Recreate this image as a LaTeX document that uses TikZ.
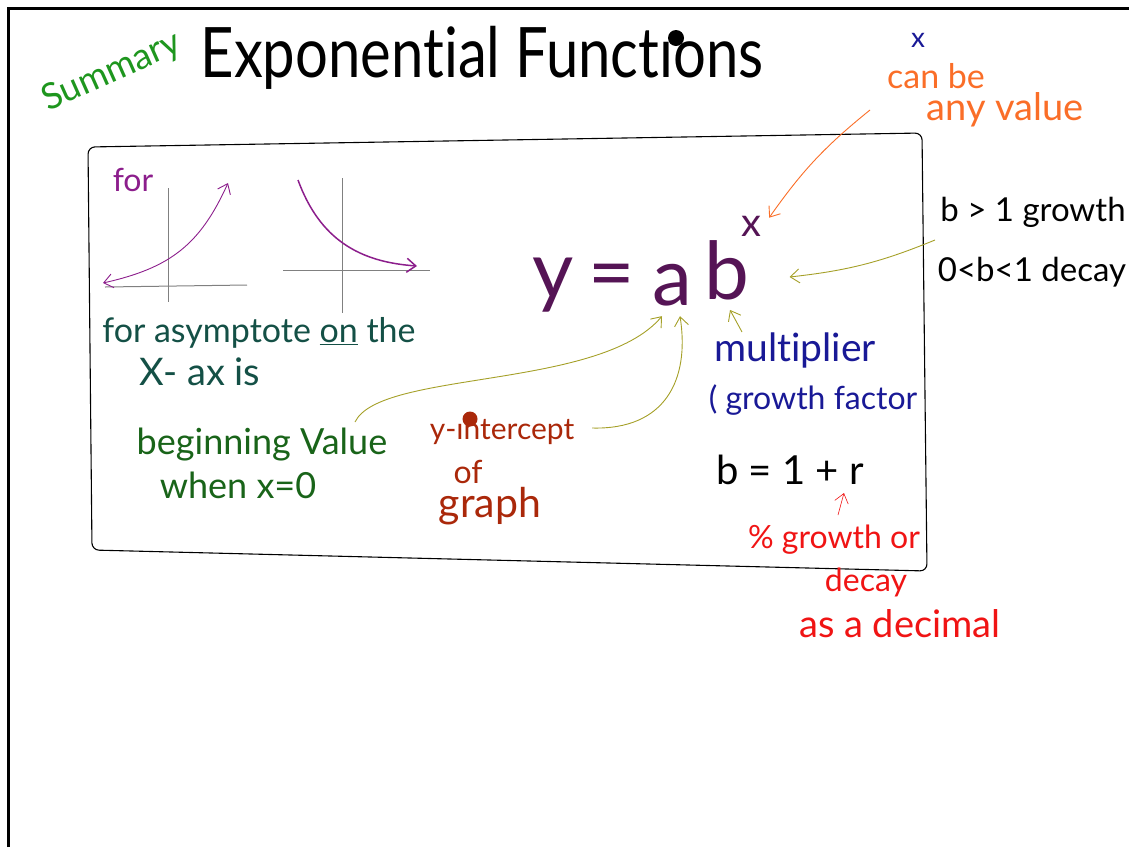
\documentclass[tikz,border=0pt]{standalone}
\usepackage{fontspec}
\setmainfont{Lato}[Ligatures=NoCommon]
\usetikzlibrary{arrows.meta}
\definecolor{sumgreen}{RGB}{30,150,30}
\definecolor{penorange}{RGB}{250,110,40}
\definecolor{penblue}{RGB}{25,25,150}
\definecolor{penpurple}{RGB}{140,30,140}
\definecolor{formpurple}{RGB}{85,20,85}
\definecolor{penteal}{RGB}{20,80,70}
\definecolor{penolive}{RGB}{165,160,40}
\definecolor{pengreen}{RGB}{25,100,25}
\definecolor{penbrown}{RGB}{170,40,10}
\definecolor{penred}{RGB}{240,20,20}

\begin{document}
\begin{tikzpicture}[
    x=1pt, y=-1pt,
    >={Straight Barb[length=9pt,width=14pt]},
    note/.style={inner sep=0pt, anchor=center},
    fs/.style={font=\fontsize{#1}{#1}\selectfont},
    formula/.style={note, fs=80, formpurple},
    axis/.style={draw=gray, line width=1pt},
    pen/.style={line width=0.9pt}
]
    \useasboundingbox (0,0) rectangle (1129,847);
    \draw[line width=3pt] (8,847) -- (8,8) -- (1129,8);

    % summary box
    \draw[line width=1.1pt, rounded corners=7pt] (88,147) -- (922,133) -- (927,571) -- (92,550) -- cycle;

    \node[note, fs=36, sumgreen, rotate=24] (summary) at (112,72) {Summary};
    \node[note, fs=58] (title) at (482,58) {\scalebox{1}[1.2]{Exponential Functıons}};
    \fill (676,38) circle (8);

    \node[note, fs=28, penblue] (xnote) at (918,40) {x};
    \node[note, fs=34, penorange] (canbe) at (936,76) {can be};
    \node[note, fs=38, penorange] (anyval) at (1005,110) {any value};

    % the two sketches
    \node[note, fs=32, penpurple] (for) at (133,180) {for};
    \draw[axis] (168,188) -- (168,302);
    \draw[axis] (105,287) -- (247,285);
    \draw[<->, pen, penpurple] (103,283) .. controls (170,268) and (200,245) .. (228,183);
    \draw[axis] (342,178) -- (342,313);
    \draw[axis] (283,270) -- (430,270);
    \draw[->, line width=1.5pt, penpurple] (298,180) .. controls (320,240) and (360,262) .. (417,266);

    \node[note, fs=34, penteal] (asym) at (259,333) {for asymptote \underline{on} the};
    \node[note, fs=38, penteal] (xaxis) at (200,372) {X- ax is};

    % the formula
    \node[formula] (fy) at (553,285) {y};
    \node[formula] (feq) at (612,282) {=};
    \node[formula] (fa) at (672,285) {a};
    \node[formula] (fb) at (727,270) {b};
    \node[note, fs=40, formpurple] (fx) at (751,226) {x};

    \node[note, fs=33] (grow) at (1033,212) {b > 1 growth};
    \node[note, fs=33] (decay) at (1032,272) {0<b<1 decay};

    \node[note, fs=39, penblue] (mult) at (795,350) {multiplier};
    \node[note, fs=32, penblue] (gfac) at (813,400) {( growth factor};
    \node[note, fs=40] (b1r) at (790,470) {b = 1 + r};

    \node[note, fs=32, penred] (pct) at (834,540) {\% growth or};
    \node[note, fs=32, penred] (dec) at (866,582) {decay};
    \node[note, fs=38, penred] (decimal) at (900,624) {as a decimal};

    \node[note, fs=36, pengreen] (begval) at (262,445) {beginning Value};
    \node[note, fs=36, pengreen] (when) at (238,485) {when x=0};

    \node[note, fs=30, penbrown] (yint) at (502,432) {y-ıntercept};
    \fill[penbrown] (470,419) circle (7.5);
    \node[note, fs=32, penbrown] (of) at (468,472) {of};
    \node[note, fs=41, penbrown] (graph) at (490,506) {graph};

    % free ends of the pointers
    \coordinate (orangestart) at (870,110);
    \coordinate (bstart) at (935,240);
    \coordinate (valstart) at (355,422);
    \coordinate (yintstart) at (592,428);
    \coordinate (multstart) at (742,332);
    \coordinate (rstart) at (838,515);

    \draw[->, pen, penorange] (orangestart) to[bend right=8] ([shift={(8,2)}]fx.north east);
    \draw[->, pen, penolive] (bstart) to[bend left=8] ([shift={(40,7)}]fb.east);
    \draw[->, pen, penolive] (valstart) .. controls (380,370) and (600,390) .. ([shift={(-10,10)}]fa.south);
    \draw[->, pen, penolive] (yintstart) .. controls (665,430) and (690,380) .. ([shift={(8,10)}]fa.south);
    \draw[->, pen, penolive] (multstart) -- ([shift={(3,10)}]fb.south);
    \draw[->, line width=0.6pt, penred] (rstart) -- ([shift={(-20,8)}]b1r.south east);
\end{tikzpicture}
\end{document}
